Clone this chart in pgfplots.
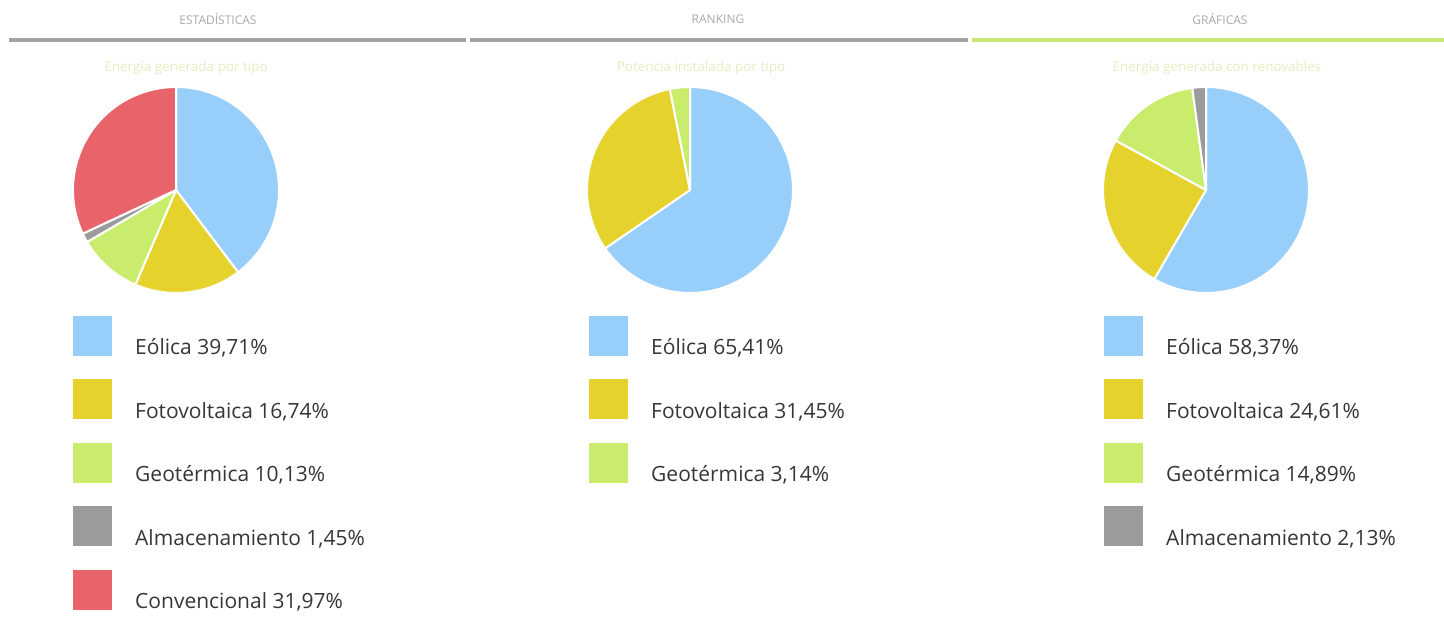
\documentclass[border=0pt]{standalone}
\usepackage{fontspec}
\setmainfont{Open Sans}
\usepackage{pgfplots}
\usepackage{pgfplotstable}
\pgfplotsset{compat=1.18}

\definecolor{eolica}{HTML}{97CEFA}
\definecolor{foto}{HTML}{E5D22C}
\definecolor{geo}{HTML}{C9EC6C}
\definecolor{alma}{HTML}{9B9B9B}
\definecolor{conv}{HTML}{E9636A}
\definecolor{txt}{HTML}{363636}
\definecolor{tabgray}{HTML}{A3A3A3}
\definecolor{tabgreen}{HTML}{C8E874}
\definecolor{tabtxt}{HTML}{A8A8A8}
\definecolor{ttl}{HTML}{E6ECC0}

\pgfkeys{/pgf/number format/.cd, fixed, precision=2, fixed zerofill,
  use comma, assume math mode=true}

% energia generada por tipo
\pgfplotstableread{
name value color
Eólica 39.71 eolica
Fotovoltaica 16.74 foto
Geotérmica 10.13 geo
Almacenamiento 1.45 alma
Convencional 31.97 conv
}\tabA
% potencia instalada por tipo
\pgfplotstableread{
name value color
Eólica 65.41 eolica
Fotovoltaica 31.45 foto
Geotérmica 3.14 geo
}\tabB
% energia generada con renovables
\pgfplotstableread{
name value color
Eólica 58.37 eolica
Fotovoltaica 24.61 foto
Geotérmica 14.89 geo
Almacenamiento 2.13 alma
}\tabC

% #1 table, #2 pie centre x, #3 left x of the legend squares
\newcommand\drawpie[3]{%
  \pgfplotstablegetrowsof{#1}%
  \pgfmathtruncatemacro\plast{\pgfplotsretval-1}%
  \xdef\pacc{90}%
  \foreach \i in {0,...,\plast}{%
    \pgfplotstablegetelem{\i}{value}\of{#1}\let\pval\pgfplotsretval
    \pgfplotstablegetelem{\i}{color}\of{#1}\let\pcol\pgfplotsretval
    \pgfplotstablegetelem{\i}{name}\of{#1}\let\pname\pgfplotsretval
    \pgfmathsetmacro\pend{\pacc-3.6*\pval}%
    \fill[fill=\pcol, draw=white, line width=2pt, line join=round]
      (axis cs:#2,442) -- ++(\pacc:103pt)
      arc[start angle=\pacc, end angle=\pend, radius=103pt] -- cycle;
    \xdef\pacc{\pend}%
    \pgfmathsetmacro\ptop{316-63.5*\i}%
    \fill[fill=\pcol] (axis cs:#3,\ptop) rectangle ++(39pt,-40pt);
    \node[anchor=base west, text=txt, inner sep=0pt,
      font=\fontsize{21}{25}\selectfont]
      at ([shift={(62pt,-39pt)}]axis cs:#3,\ptop)
      {\pname\ \pgfmathprintnumber{\pval}\%};
  }%
}

\begin{document}
\begin{tikzpicture}
\begin{axis}[
    width=1444pt, height=632pt, scale only axis,
    xmin=0, xmax=1444, ymin=0, ymax=632,
    axis lines=none, clip=false,
    ]
    % tabs
    \draw[tabgray, line width=4pt] (axis cs:9,592) -- (axis cs:466,592);
    \draw[tabgray, line width=4pt] (axis cs:470,592) -- (axis cs:968,592);
    \draw[tabgreen, line width=4pt] (axis cs:972,592) -- (axis cs:1444,592);
    \node[text=tabtxt, font=\fontsize{12}{14}\selectfont] at (axis cs:218,613) {ESTADÍSTICAS};
    \node[text=tabtxt, font=\fontsize{12}{14}\selectfont] at (axis cs:718,613) {RANKING};
    \node[text=tabtxt, font=\fontsize{12}{14}\selectfont] at (axis cs:1220,613) {GRÁFICAS};
    % titles
    \node[text=ttl, font=\fontsize{13.5}{16}\selectfont] at (axis cs:186,564) {Energía generada por tipo};
    \node[text=ttl, font=\fontsize{13.5}{16}\selectfont] at (axis cs:701,564) {Potencia instalada por tipo};
    \node[text=ttl, font=\fontsize{13.5}{16}\selectfont] at (axis cs:1217,564) {Energía generada con renovables};
    \pgfplotsextra{%
      \drawpie{\tabA}{176}{73}%
      \drawpie{\tabB}{690}{589}%
      \drawpie{\tabC}{1206}{1104}%
    }
\end{axis}
\pgfresetboundingbox
\useasboundingbox (current axis.south west) rectangle (current axis.north east);
\end{tikzpicture}
\end{document}
